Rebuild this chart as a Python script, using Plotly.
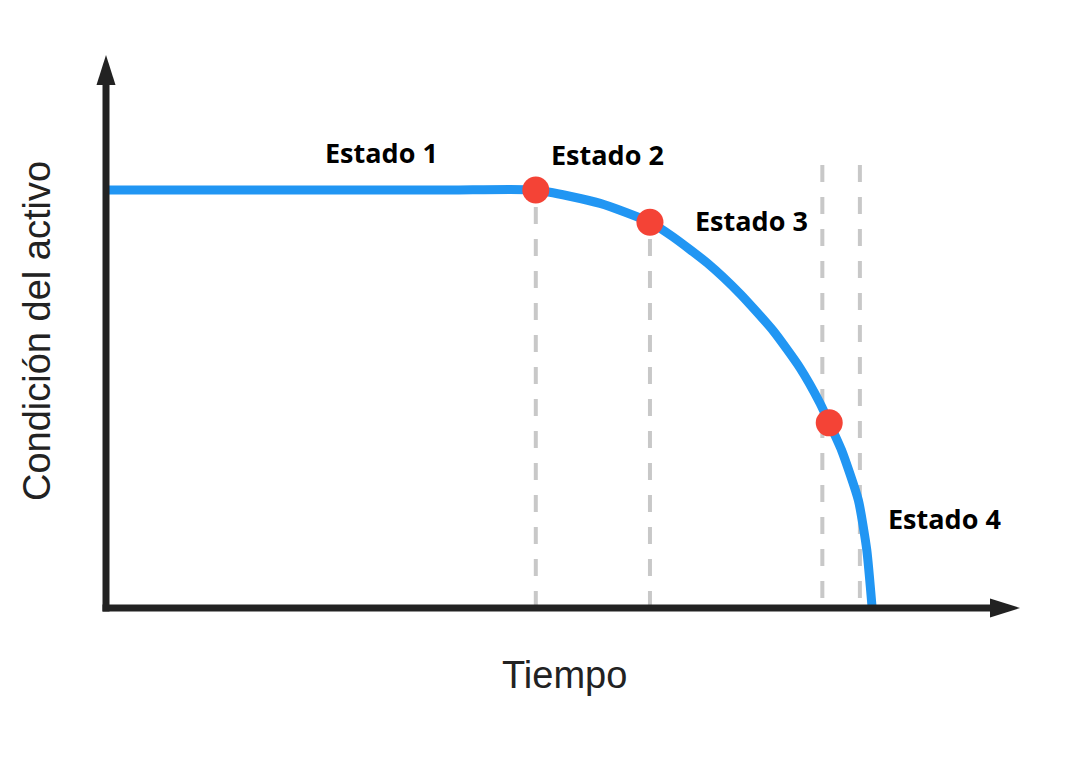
import plotly.graph_objects as go

# ---- data (time in % of life, condition in %) ----
curve_time = [0.3, 25.3, 45.0, 56.1, 64.5, 71.0, 74.0, 78.5, 82.8, 87.1, 90.6, 93.2, 94.4, 96.0, 98.2, 99.3, 100.0]
curve_cond = [100.0, 100.0, 100.0, 100.0, 96.8, 92.3, 88.8, 82.5, 75.1, 66.3, 57.4, 49.0, 44.3, 37.8, 25.8, 13.9, 0.0]

state_time = [56.1, 71.0, 94.4]
state_cond = [100.0, 92.3, 44.3]

guide_time = [56.1, 71.0, 93.5, 98.4]
guide_top = [100.0, 92.3, 106.0, 106.0]
guide_from_axis = [True, True, False, False]

label_text = ["Estado 1", "Estado 2", "Estado 3", "Estado 4"]
label_time = [35.9, 65.5, 84.2, 109.4]
label_cond = [108.9, 108.4, 92.6, 21.3]

x_title = "Tiempo"
y_title = "Condición del activo"

X_MAX = 119.3   # tip of the time arrow
Y_MAX = 132.3   # tip of the condition arrow

BLUE = "#2196F3"
RED = "#F44336"
AXIS = "#222222"
GUIDE = "#C8C8C8"

W, H = 1073, 767
OX, OY = 106, 608          # pixel position of the origin
TIPX, TIPY = 1020, 55      # pixel position of the arrow tips
px_per_x = (TIPX - OX) / X_MAX
px_per_y = (OY - TIPY) / Y_MAX

x_range = [-OX / px_per_x, (W - OX) / px_per_x]
y_range = [-(H - OY) / px_per_y, OY / px_per_y]

fig = go.Figure()

fig.add_trace(go.Scatter(
    x=curve_time, y=curve_cond, mode="lines",
    line=dict(color=BLUE, width=9, shape="spline", smoothing=0.55),
    hoverinfo="skip", showlegend=False,
))
fig.add_trace(go.Scatter(
    x=state_time, y=state_cond, mode="markers",
    marker=dict(color=RED, size=27, line=dict(width=0)),
    hoverinfo="skip", showlegend=False,
))

shapes = []
for t, top, from_axis in zip(guide_time, guide_top, guide_from_axis):
    y0, y1 = (0, top) if from_axis else (top, 0)
    shapes.append(dict(type="line", xref="x", yref="y", x0=t, x1=t, y0=y0, y1=y1,
                       line=dict(color=GUIDE, width=4, dash="17px,15px"), layer="below"))

# axes
shapes.append(dict(type="line", xref="x", yref="y", x0=0, x1=0, y0=-3.5 / px_per_y, y1=Y_MAX - 5,
                   line=dict(color=AXIS, width=7), layer="above"))
shapes.append(dict(type="line", xref="x", yref="y", x0=-3.5 / px_per_x, x1=X_MAX - 2, y0=0, y1=0,
                   line=dict(color=AXIS, width=7), layer="above"))

# arrow heads (sizes given in pixels, converted to axis units)
hw, hl = 9.5, 30.0
ya_path = "M 0 %f L %f %f L %f %f Z" % (
    Y_MAX, -hw / px_per_x, Y_MAX - hl / px_per_y, hw / px_per_x, Y_MAX - hl / px_per_y)
xa_path = "M %f 0 L %f %f L %f %f Z" % (
    X_MAX, X_MAX - hl / px_per_x, hw / px_per_y, X_MAX - hl / px_per_x, -hw / px_per_y)
for p in (ya_path, xa_path):
    shapes.append(dict(type="path", xref="x", yref="y", path=p,
                       fillcolor=AXIS, line=dict(width=0), layer="above"))

annotations = []
for txt, t, c in zip(label_text, label_time, label_cond):
    annotations.append(dict(x=t, y=c, xref="x", yref="y", text="<b>%s</b>" % txt,
                            xanchor="center", yanchor="middle", showarrow=False,
                            font=dict(family="Open Sans", size=27, color="#000000")))
annotations.append(dict(x=(564 - OX) / px_per_x, y=(OY - 675) / px_per_y,
                        xref="x", yref="y", text=x_title, showarrow=False,
                        xanchor="center", yanchor="middle",
                        font=dict(family="Liberation Sans", size=38, color=AXIS)))
annotations.append(dict(x=(37 - OX) / px_per_x, y=(OY - 331) / px_per_y,
                        xref="x", yref="y", text=y_title, showarrow=False,
                        xanchor="center", yanchor="middle", textangle=-90,
                        font=dict(family="Liberation Sans", size=38, color=AXIS)))

fig.update_layout(
    width=W, height=H, autosize=False,
    margin=dict(l=0, r=0, t=0, b=0, pad=0),
    paper_bgcolor="white", plot_bgcolor="white",
    xaxis=dict(range=x_range, visible=False, fixedrange=True),
    yaxis=dict(range=y_range, visible=False, fixedrange=True),
    shapes=shapes, annotations=annotations,
)

fig.write_html("out.html", config={"displayModeBar": False},
               post_script="document.body.style.margin='0';")
